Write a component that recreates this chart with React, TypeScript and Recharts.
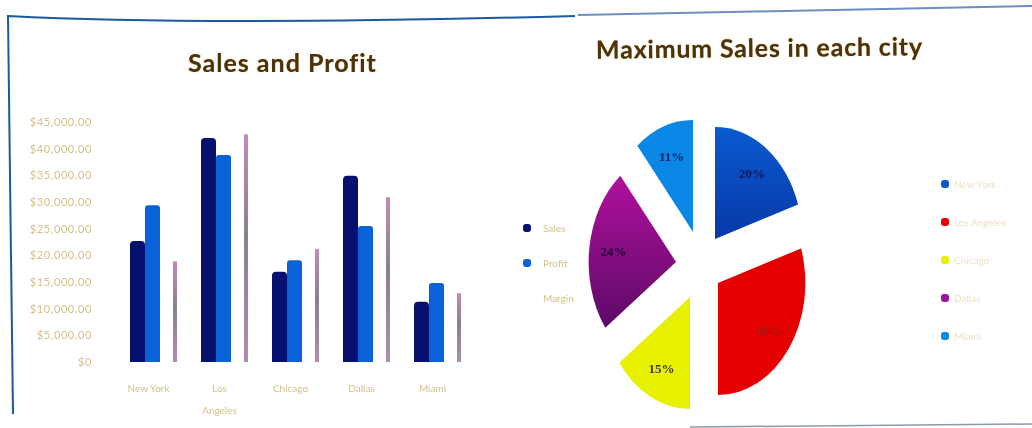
import React from 'react';
import { BarChart, Bar, XAxis, YAxis, Legend, PieChart, Pie, Sector } from 'recharts';

const cities = ['New York', 'Los Angeles', 'Chicago', 'Dallas', 'Miami'];
const sales = [22700, 42000, 16900, 34900, 11300];
const profit = [29400, 38800, 19100, 25500, 14800];
const margin = [18900, 42700, 21200, 30900, 12900];
const yTicks = [0, 5000, 10000, 15000, 20000, 25000, 30000, 35000, 40000, 45000];

const pieNames = ['New York', 'Los Angeles', 'Chicago', 'Dallas', 'Miami'];
const pieShares = [20, 30, 15, 24, 11];
const pieFills = ['url(#pieBlue)', '#e40000', '#e6f000', 'url(#piePurple)', '#0a86e6'];
const legendFills = ['#0a5cc8', '#e40000', '#e6f000', '#a0149a', '#0a8ae8'];
const labelFills = ['#101a60', '#a01818', '#3a3a10', '#1a0a30', '#12246a'];
// how far each slice is pulled out of the pie
const sliceShift = [[18, -23], [21, 21], [-7, 35], [-21, 0], [-4, -30]];

const barData = cities.map((city, i) => ({ city, sales: sales[i], profit: profit[i], margin: margin[i] }));
const pieData = pieNames.map((name, i) => ({ name, value: pieShares[i], fill: pieFills[i] }));

const SQUASH = 0.78;
const PIE_R = 112;
const RAD = Math.PI / 180;

const labelColor = '#d6c088';

// third series is a thin sliver sitting right of the group
const ThinBar = (props: any) => {
  const { x, y, height } = props;
  return <rect x={x + 13} y={y} width={4} height={height} fill="url(#thinBar)" />;
};

const CityTick = (props: any) => {
  const { x, y, payload } = props;
  const words = payload.value === 'Los Angeles' ? ['Los', 'Angeles'] : [payload.value];
  return (
    <text x={x - 4} y={y + 22} textAnchor="middle" fontSize={10} fontFamily="Lato" fill={labelColor}>
      {words.map((w: string, i: number) => (
        <tspan key={w} x={x - 4} dy={i === 0 ? 0 : 22}>{w}</tspan>
      ))}
    </text>
  );
};

const moneyFmt = (v: number) => (v === 0 ? '$0' : `$${v.toLocaleString('en-US')}.00`);

const BarLegend = ({ payload }: any) => (
  <div style={{ fontFamily: 'Lato', fontSize: 10, color: labelColor }}>
    {(payload || []).map((p: any, i: number) => (
      <div key={p.value} style={{ height: 35, display: 'flex', alignItems: 'center' }}>
        <span style={{ width: 8, height: 8, borderRadius: 3, marginRight: 12, background: i < 2 ? p.color : 'transparent' }} />
        <span>{p.value}</span>
      </div>
    ))}
  </div>
);

const PieLegend = () => (
  <div style={{ fontFamily: 'Lato', fontSize: 10, color: '#ece2c6' }}>
    {pieNames.map((name, i) => (
      <div key={name} style={{ height: 38, display: 'flex', alignItems: 'center' }}>
        <span style={{ width: 8, height: 8, borderRadius: 3, marginRight: 5, background: legendFills[i] }} />
        <span>{name}</span>
      </div>
    ))}
  </div>
);

const ExplodedSlice = (props: any) => {
  const { cx, cy, index } = props;
  const [dx, dy] = sliceShift[index];
  return (
    <g transform={`translate(${cx + dx} ${cy + dy}) scale(${SQUASH} 1) translate(${-cx} ${-cy})`}>
      <Sector {...props} stroke="none" />
    </g>
  );
};

const sliceLabel = (props: any) => {
  const { cx, cy, midAngle, index, value } = props;
  const [dx, dy] = sliceShift[index];
  const r = PIE_R * 0.72;
  const x = cx + dx + r * SQUASH * Math.cos(midAngle * RAD);
  const y = cy + dy - r * Math.sin(midAngle * RAD);
  return (
    <text x={x} y={y} textAnchor="middle" dominantBaseline="central" fontSize={13} fontWeight={700}
      fontFamily="Liberation Serif" fill={labelFills[index]}>
      {value}%
    </text>
  );
};

const titleStyle: React.CSSProperties = {
  position: 'absolute',
  fontFamily: 'Lato',
  fontWeight: 700,
  color: '#4a3410',
  textShadow: '0 0 1px #d08a20',
  whiteSpace: 'nowrap',
  letterSpacing: 1,
};

export default function App() {
  return (
    <div style={{ position: 'absolute', left: 0, top: 0, width: 1032, height: 428, background: '#fff', overflow: 'hidden', filter: 'blur(0.6px)' }}>
      <div style={{ ...titleStyle, left: 188, top: 47, fontSize: 25 }}>Sales and Profit</div>
      <div style={{ ...titleStyle, left: 596, top: 32, fontSize: 25, letterSpacing: 0.8, transform: 'rotate(-0.6deg)' }}>Maximum Sales in each city</div>

      <div style={{ position: 'absolute', left: 0, top: 0 }}>
        <BarChart width={575} height={428} data={barData} barSize={15} barGap={0}
          margin={{ top: 122, right: 103, bottom: 0, left: 0 }}>
          <defs>
            <linearGradient id="thinBar" x1="0" y1="0" x2="0" y2="1">
              <stop offset="0%" stopColor="#c48ab8" />
              <stop offset="45%" stopColor="#8a8090" />
              <stop offset="100%" stopColor="#b08cb0" />
            </linearGradient>
          </defs>
          <XAxis dataKey="city" axisLine={false} tickLine={false} height={66} tick={<CityTick />} interval={0} />
          <YAxis width={117} domain={[0, 45000]} ticks={yTicks} interval={0} axisLine={false} tickLine={false} tickSize={0} tickMargin={25}
            tickFormatter={moneyFmt} tick={{ fontSize: 11, letterSpacing: 0.6, fill: labelColor, fontFamily: 'Lato' }} />
          <Legend layout="vertical" align="center" verticalAlign="middle" itemSorter={null} content={<BarLegend />}
            wrapperStyle={{ position: 'absolute', left: 523, top: 210, width: 52 }} />
          <Bar dataKey="sales" name="Sales" fill="#06106e" radius={[4, 4, 0, 0]} isAnimationActive={false} />
          <Bar dataKey="profit" name="Profit" fill="#0a62d8" radius={[3, 3, 0, 0]} isAnimationActive={false} />
          <Bar dataKey="margin" name="Margin" fill="#b08cb0" shape={<ThinBar />} isAnimationActive={false} />
        </BarChart>
      </div>

      <div style={{ position: 'absolute', left: 580, top: 100 }}>
        <PieChart width={452} height={328} margin={{ top: 0, right: 0, bottom: 0, left: 0 }}>
          <defs>
            <linearGradient id="pieBlue" x1="0" y1="0" x2="0" y2="1">
              <stop offset="0%" stopColor="#0a5ad0" />
              <stop offset="100%" stopColor="#0838a8" />
            </linearGradient>
            <linearGradient id="piePurple" x1="0" y1="0" x2="0" y2="1">
              <stop offset="0%" stopColor="#b0109c" />
              <stop offset="100%" stopColor="#5c0a68" />
            </linearGradient>
          </defs>
          <Pie data={pieData} dataKey="value" nameKey="name" cx={117} cy={162} outerRadius={PIE_R} startAngle={90} endAngle={-270}
            shape={<ExplodedSlice />} label={sliceLabel} labelLine={false} stroke="none" isAnimationActive={false} />
          <Legend layout="vertical" align="center" verticalAlign="middle" content={<PieLegend />}
            wrapperStyle={{ position: 'absolute', left: 361, top: 65, width: 91 }} />
        </PieChart>
      </div>

      {/* frame of the two slides in the photo */}
      <svg width={1032} height={428} style={{ position: 'absolute', left: 0, top: 0, pointerEvents: 'none' }}>
        <path d="M13 414 L8 16 Q200 26 575 16" fill="none" stroke="#1a5a9a" strokeWidth={2} />
        <path d="M578 15 L1032 6" fill="none" stroke="#6a8fc0" strokeWidth={2} />
        <path d="M690 427 L1032 424" fill="none" stroke="#8a9aaa" strokeWidth={1.5} />
      </svg>
    </div>
  );
}
